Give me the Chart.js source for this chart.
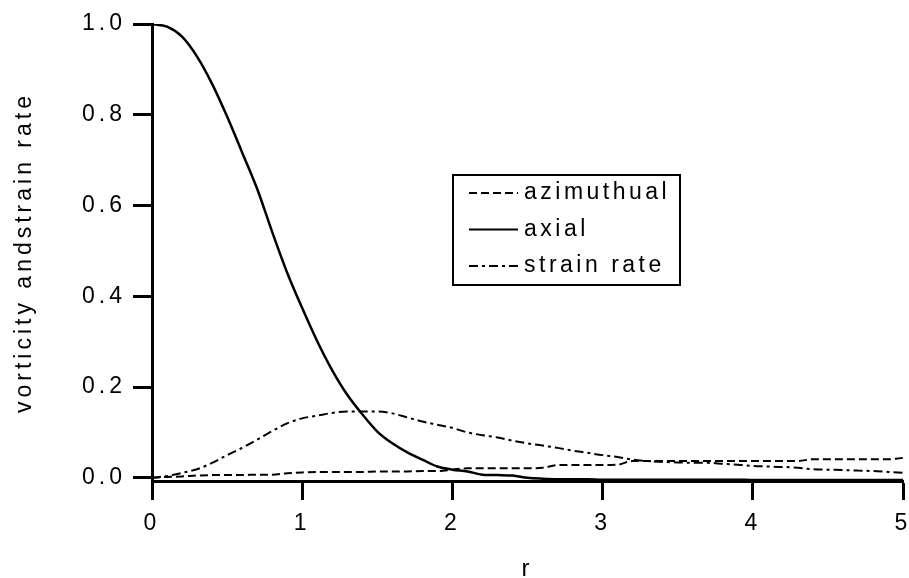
<!DOCTYPE html>
<html lang="en">
<head>
    <meta charset="UTF-8">
    <title>Vorticity and strain rate</title>
    <script src="https://cdn.jsdelivr.net/npm/chart.js"></script>
    <style>
        html, body { margin: 0; padding: 0; background: #fff; }
        #wrap { width: 909px; height: 578px; }
    </style>
</head>
<body>
    <div id="wrap"><canvas id="chart"></canvas></div>

    <script>
        // radius samples (read every 0.1 along r)
        const rValues = [
            0.0, 0.1, 0.2, 0.3, 0.4, 0.5, 0.6, 0.7, 0.8, 0.9,
            1.0, 1.1, 1.2, 1.3, 1.4, 1.5, 1.6, 1.7, 1.8, 1.9,
            2.0, 2.1, 2.2, 2.3, 2.4, 2.5, 2.6, 2.7, 2.8, 2.9,
            3.0, 3.1, 3.2, 3.3, 3.4, 3.5, 3.6, 3.7, 3.8, 3.9,
            4.0, 4.1, 4.2, 4.3, 4.4, 4.5, 4.6, 4.7, 4.8, 4.9,
            5.0
        ];

        const azimuthual = [
            0.000, 0.002, 0.003, 0.005, 0.006, 0.006, 0.006, 0.007, 0.007, 0.010,
            0.012, 0.013, 0.013, 0.013, 0.013, 0.014, 0.014, 0.014, 0.015, 0.015,
            0.018, 0.021, 0.021, 0.021, 0.021, 0.021, 0.022, 0.028, 0.028, 0.028,
            0.028, 0.029, 0.037, 0.037, 0.037, 0.037, 0.037, 0.037, 0.037, 0.037,
            0.037, 0.037, 0.037, 0.037, 0.041, 0.041, 0.041, 0.041, 0.041, 0.041,
            0.044
        ];

        const axial = [
            1.000, 0.994, 0.972, 0.928, 0.868, 0.796, 0.717, 0.637, 0.542, 0.452,
            0.374, 0.301, 0.237, 0.183, 0.140, 0.102, 0.076, 0.056, 0.040, 0.025,
            0.018, 0.014, 0.007, 0.006, 0.005, 0.000, -0.002, -0.003, -0.003, -0.003,
            -0.004, -0.004, -0.004, -0.004, -0.004, -0.004, -0.004, -0.004, -0.004, -0.004,
            -0.005, -0.005, -0.005, -0.005, -0.005, -0.005, -0.005, -0.005, -0.005, -0.005,
            -0.005
        ];

        const strainRate = [
            0.000, 0.004, 0.011, 0.019, 0.033, 0.050, 0.066, 0.084, 0.103, 0.120,
            0.131, 0.137, 0.143, 0.146, 0.146, 0.146, 0.142, 0.133, 0.124, 0.117,
            0.110, 0.100, 0.094, 0.089, 0.082, 0.076, 0.071, 0.066, 0.060, 0.055,
            0.050, 0.046, 0.040, 0.037, 0.035, 0.034, 0.033, 0.033, 0.031, 0.029,
            0.026, 0.025, 0.024, 0.022, 0.019, 0.018, 0.017, 0.016, 0.015, 0.013,
            0.011
        ];

        const xTicks = [0, 1, 2, 3, 4, 5];
        const yTicks = [0.0, 0.2, 0.4, 0.6, 0.8, 1.0];

        const FONT = '"Liberation Sans", Arial, Helvetica, sans-serif';
        const SPACING = '4px';

        function toPoints(values) {
            return rValues.map((r, i) => ({ x: r, y: values[i] }));
        }

        // the old plot has widely tracked lettering
        const tracking = {
            id: 'tracking',
            beforeUpdate(chart) { chart.ctx.letterSpacing = SPACING; },
            beforeDraw(chart) { chart.ctx.letterSpacing = SPACING; }
        };

        // boxed legend sitting inside the plot
        const boxLegend = {
            id: 'boxLegend',
            afterDraw(chart) {
                const ctx = chart.ctx;
                ctx.save();
                ctx.letterSpacing = '3.5px';
                ctx.strokeStyle = '#000';
                ctx.lineWidth = 2;
                ctx.setLineDash([]);
                ctx.strokeRect(453, 175, 227, 110);
                chart.data.datasets.forEach((ds, i) => {
                    const y = 193 + i * 36.5;
                    ctx.setLineDash(ds.borderDash || []);
                    ctx.lineWidth = 2;
                    ctx.beginPath();
                    ctx.moveTo(469, y);
                    ctx.lineTo(518, y);
                    ctx.stroke();
                    ctx.setLineDash([]);
                    ctx.fillStyle = '#000';
                    ctx.font = '23px ' + FONT;
                    ctx.textAlign = 'left';
                    ctx.textBaseline = 'middle';
                    ctx.fillText(ds.label, 524, y);
                });
                ctx.restore();
            }
        };

        const ctx = document.getElementById('chart').getContext('2d');
        new Chart(ctx, {
            type: 'line',
            data: {
                datasets: [
                    {
                        label: 'azimuthual',
                        data: toPoints(azimuthual),
                        borderColor: '#000',
                        borderWidth: 2,
                        borderDash: [8, 4],
                        pointRadius: 0
                    },
                    {
                        label: 'axial',
                        data: toPoints(axial),
                        borderColor: '#000',
                        borderWidth: 2.5,
                        pointRadius: 0
                    },
                    {
                        label: 'strain rate',
                        data: toPoints(strainRate),
                        borderColor: '#000',
                        borderWidth: 2,
                        borderDash: [9, 4, 3, 4],
                        pointRadius: 0
                    }
                ]
            },
            options: {
                responsive: true,
                maintainAspectRatio: false,
                animation: false,
                cubicInterpolationMode: 'monotone',
                layout: { padding: { left: 0, right: 6, top: 24, bottom: 0 } },
                plugins: {
                    legend: { display: false },
                    tooltip: { enabled: false }
                },
                scales: {
                    x: {
                        type: 'linear',
                        min: 0,
                        max: 5,
                        afterBuildTicks: s => { s.ticks = xTicks.map(v => ({ value: v })); },
                        afterFit: s => { s.height = 97; s.paddingLeft = 0; s.paddingRight = 0; },
                        border: { display: true, color: '#000', width: 3 },
                        grid: { drawOnChartArea: false, drawTicks: true, tickLength: 19, tickWidth: 3, tickColor: '#000' },
                        ticks: {
                            color: '#000',
                            padding: 10,
                            maxRotation: 0,
                            font: { family: FONT, size: 23 },
                            callback: v => String(v)
                        },
                        title: {
                            display: true,
                            text: 'r',
                            color: '#000',
                            font: { family: FONT, size: 24, lineHeight: 1 },
                            padding: { top: 0, bottom: -3 }
                        }
                    },
                    y: {
                        min: -0.007,
                        max: 1.0,
                        afterBuildTicks: s => { s.ticks = yTicks.map(v => ({ value: v })); },
                        afterFit: s => { s.width = 152; },
                        border: { display: true, color: '#000', width: 3 },
                        grid: { drawOnChartArea: false, drawTicks: true, tickLength: 19, tickWidth: 3, tickColor: '#000' },
                        ticks: {
                            color: '#000',
                            padding: 7,
                            font: { family: FONT, size: 23 },
                            callback: v => v.toFixed(1)
                        },
                        title: {
                            display: true,
                            text: 'vorticity andstrain rate',
                            color: '#000',
                            font: { family: FONT, size: 23 },
                            padding: { top: 11, bottom: 0 }
                        }
                    }
                }
            },
            plugins: [tracking, boxLegend]
        });
    </script>
</body>
</html>
